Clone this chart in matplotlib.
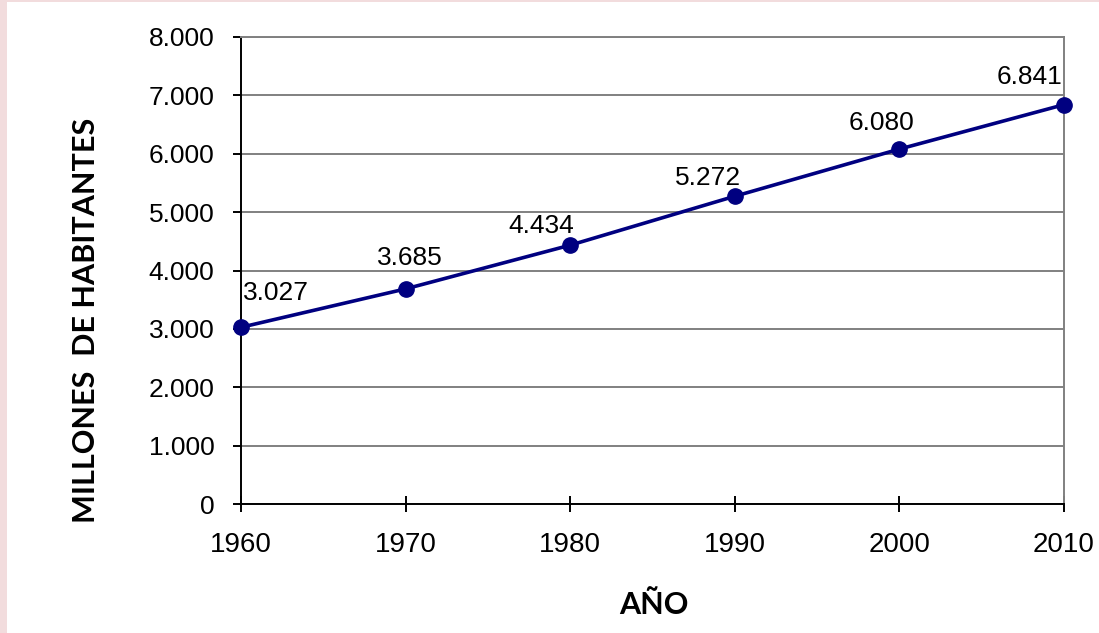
import matplotlib.pyplot as plt
from matplotlib.patches import Rectangle
from matplotlib.ticker import FuncFormatter

# data
years = [1960, 1970, 1980, 1990, 2000, 2010]
population = [3027, 3685, 4434, 5272, 6080, 6841]
y_ticks = [0, 1000, 2000, 3000, 4000, 5000, 6000, 7000, 8000]

# label offsets (points), roughly like excel put them
label_offsets = [(25, 25), (3, 22), (-21, 14), (-19, 13), (-13, 19), (-25, 20)]


def miles(v, pos=None):
    s = "{:,.0f}".format(v).replace(",", ".")
    return s


fig = plt.figure(figsize=(10.99, 6.33), dpi=100)
fig.patch.set_facecolor("#f2dcdd")
# white panel inside the pink frame
fig.patches.append(Rectangle((7 / 1099, 0), 1, 1 - 2 / 633, transform=fig.transFigure,
                             facecolor="white", edgecolor="none", zorder=-10))

ax = fig.add_axes([241 / 1099, 129 / 633, 823 / 1099, 467 / 633])
ax.set_facecolor("white")

ax.plot(years, population, color="#000080", lw=2.6, marker="o", ms=11,
        markerfacecolor="#000080", markeredgecolor="#000080", zorder=3, clip_on=False)

for x, y, off in zip(years, population, label_offsets):
    ax.annotate(miles(y), (x, y), xytext=off, textcoords="offset points",
                ha="center", va="center", fontsize=19, family="Liberation Sans")

ax.set_xlim(1960, 2010)
ax.set_ylim(0, 8000)
ax.set_xticks(years)
ax.set_yticks(y_ticks)
ax.yaxis.set_major_formatter(FuncFormatter(miles))
ax.grid(axis="y", color="#808080", lw=1.4)
ax.set_axisbelow(True)

for side in ["top", "right"]:
    ax.spines[side].set_color("#808080")
    ax.spines[side].set_linewidth(1.4)
for side in ["left", "bottom"]:
    ax.spines[side].set_color("black")
    ax.spines[side].set_linewidth(1.4)

ax.tick_params(axis="y", length=6, width=1.4, pad=13, labelsize=19)
ax.tick_params(axis="x", direction="inout", length=12, width=1.4, pad=14, labelsize=20)
for lab in ax.get_xticklabels() + ax.get_yticklabels():
    lab.set_family("Liberation Sans")

fig.text(86 / 1099, 1 - 320 / 633, "MILLONES  DE HABITANTES", rotation=90, ha="center", va="center",
         fontsize=22, fontweight="bold", family="Lato")
fig.text(654 / 1099, 28 / 633, "AÑO", ha="center", va="center",
         fontsize=22, fontweight="bold", family="Lato")

fig.savefig("out.png", dpi=100)
